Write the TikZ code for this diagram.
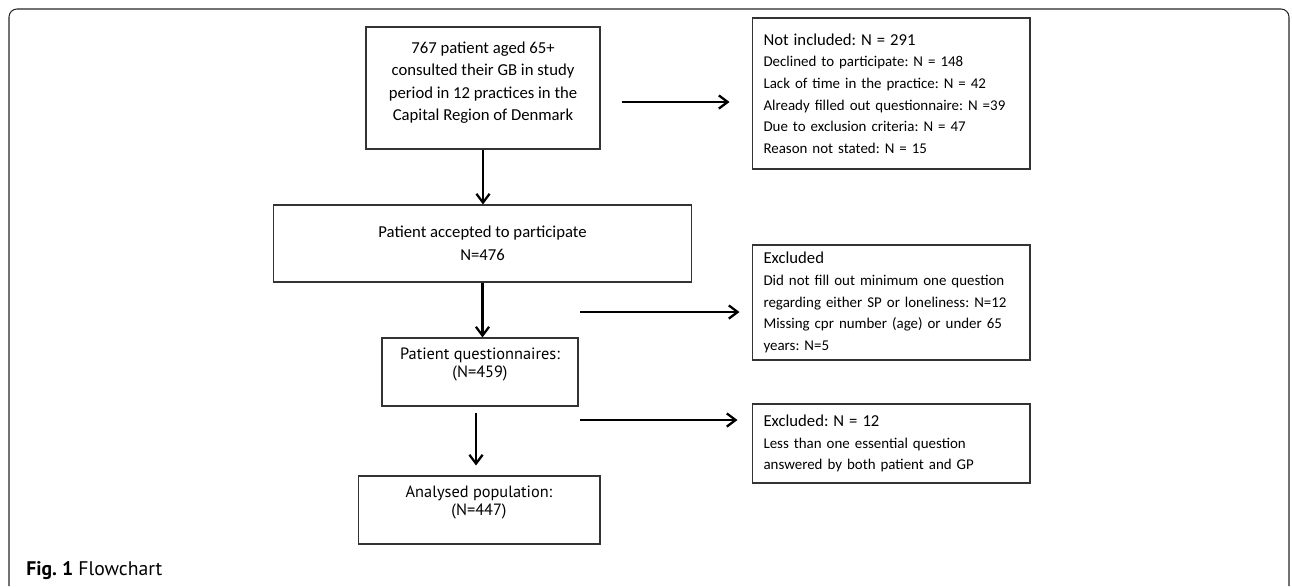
\documentclass[tikz,border=0pt]{standalone}
\usepackage{fontspec}
\setmainfont{Carlito}
\newfontfamily\capfont{PT Sans}
\frenchspacing
\usetikzlibrary{shapes,arrows.meta}
\tikzstyle{block} = [rectangle, draw=black!80, line width=0.6pt, align=center, inner sep=0pt, font=\fontsize{9.5}{12.8}\selectfont]
\tikzstyle{sidebox} = [rectangle, draw=black!80, line width=0.6pt, align=left, text width=5.1cm, inner xsep=0.23cm, inner ysep=0pt, font=\fontsize{8.5}{12.3}\selectfont]
\tikzstyle{myriad} = [font=\capfont\fontsize{9.3}{10.4}\selectfont]
\tikzstyle{line} = [draw, line width=1.3pt, -{Straight Barb[length=5pt,width=7.5pt,line width=1.3pt]}]
\newcommand{\headtxt}{\fontsize{9.5}{12.3}\selectfont}

\begin{document}
\begin{tikzpicture}[x=0.02cm, y=-0.02cm]
  \useasboundingbox (0,0) rectangle (1292,586);
  % frame and caption
  \draw [black!85, line width=0.6pt, rounded corners=0.16cm] (9,586) -- (9,9) -- (1289,9) -- (1289,586);
  \node [anchor=base west, inner sep=0pt, font=\capfont\fontsize{11.2}{12}\selectfont] (caption) at (26,575) {\textbf{Fig. 1} Flowchart};
  % Place nodes
  \node [block, minimum width=4.68cm, minimum height=2.44cm] (consulted) at (483,88)
    {767 patient aged 65+\\consulted their GB in study\\period in 12 practices in the\\Capital Region of Denmark\\[-5pt]\mbox{}};
  \node [sidebox, minimum height=3.02cm] (notincl) at (891,93.5)
    {{\headtxt Not included: N = 291}\\Declined to participate: N = 148\\Lack of time in the practice: N = 42\\Already filled out questionnaire: N =39\\Due to exclusion criteria: N = 47\\Reason not stated: N = 15};
  \node [block, minimum width=8.38cm, minimum height=1.54cm] (accepted) at (482.5,243.5)
    {Patient accepted to participate\\N=476};
  \node [sidebox, minimum height=2.3cm] (excl) at (891,302.5)
    {{\headtxt Excluded}\\Did not fill out minimum one question\\regarding either SP or loneliness: N=12\\Missing cpr number (age) or under 65\\years: N=5};
  \node [block, myriad, minimum width=3.92cm, minimum height=1.36cm] (quest) at (480,372)
    {Patient questionnaires:\\(N=459)\\\mbox{}};
  \node [sidebox, minimum height=1.58cm] (exclb) at (891,443.5)
    {{\headtxt Excluded: N = 12}\\Less than one essential question\\answered by both patient and GP};
  \node [block, myriad, minimum width=4.84cm, minimum height=1.36cm] (analysed) at (479,510)
    {Analysed population:\\(N=447)\\\mbox{}};
  \coordinate (split1) at (580,312);
  \coordinate (split2) at (580,420);
  % Draw edges
  \path [line] (consulted.south) -- (consulted.south |- accepted.north);
  \path [line] (accepted.south) -- (accepted.south |- quest.north);
  \path [line, shorten <=0.12cm, shorten >=0.2cm] ([xshift=-0.08cm]quest.south) -- ([xshift=-0.08cm]quest.south |- analysed.north);
  \path [line, shorten <=0.42cm, shorten >=0.44cm] ([yshift=-0.28cm]consulted.east) -- ([yshift=-0.28cm]consulted.east -| notincl.west);
  \path [line, shorten >=0.24cm] (split1) -- (split1 -| excl.west);
  \path [line, shorten >=0.28cm] (split2) -- (split2 -| exclb.west);
\end{tikzpicture}
\end{document}
